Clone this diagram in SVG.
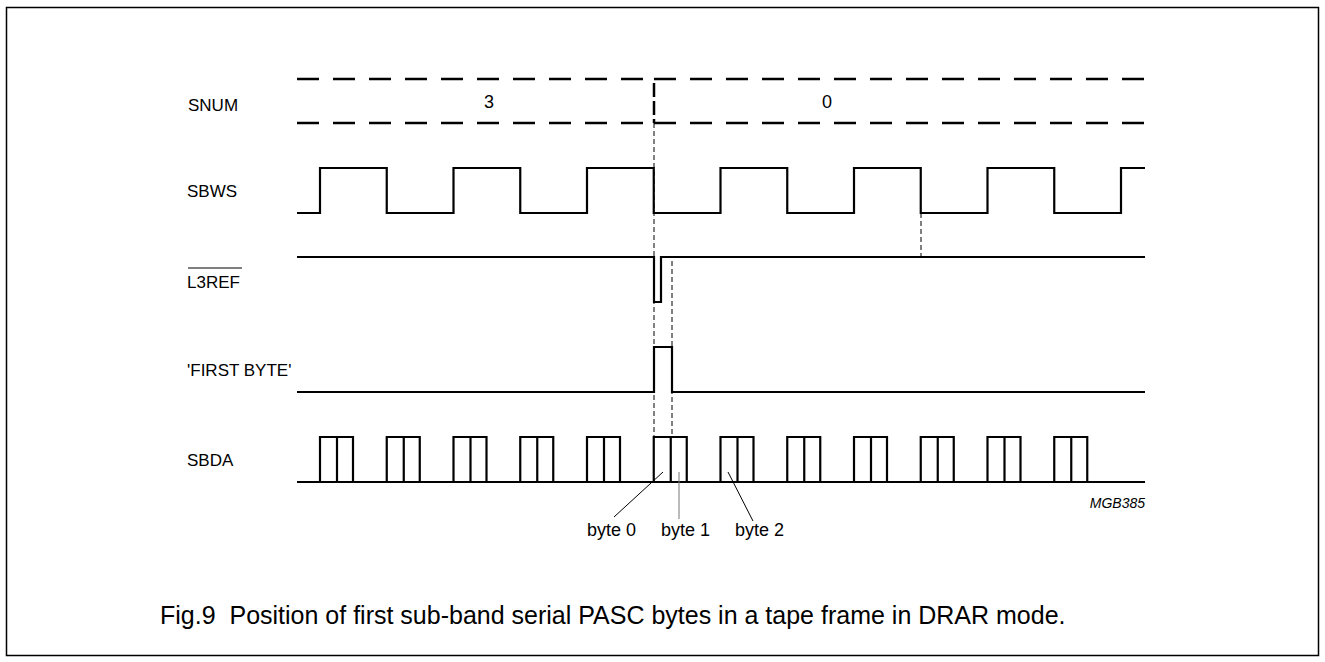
<svg xmlns="http://www.w3.org/2000/svg" width="1325" height="662" viewBox="0 0 1325 662">
<style>
.lbl{font-family:"Liberation Sans",Arial,sans-serif;font-size:18px;fill:#000}
.side{font-family:"Liberation Sans",Arial,sans-serif;font-size:17px;fill:#000}
.cap{font-family:"Liberation Sans",Arial,sans-serif;font-size:25px;fill:#000;white-space:pre}
.wave{fill:none;stroke:#000;stroke-width:2.2;stroke-linejoin:miter}
.dash{fill:none;stroke:#000;stroke-width:2.5;stroke-dasharray:22 14}
.guide{fill:none;stroke:#000;stroke-width:1;stroke-dasharray:5 3}
.lead{fill:none;stroke:#000;stroke-width:1}
</style>
<rect x="6.5" y="7.5" width="1312" height="648" fill="#fff" stroke="#000" stroke-width="1.5"/>
<g id="snum">
<text class="side" x="188" y="111">SNUM</text>
<path class="dash" d="M297,79 H654 M297,123 H654"/>
<path class="dash" d="M654,79 H1145 M654,123 H1145"/>
<path fill="none" stroke="#000" stroke-width="2.5" stroke-dasharray="14 4" d="M654,83 V123"/>
<text class="lbl" x="489" y="108" text-anchor="middle">3</text>
<text class="lbl" x="827" y="108" text-anchor="middle">0</text>
</g>
<g id="sbws">
<text class="side" x="187" y="197">SBWS</text>
<path class="wave" d="M297,213 H320 V168 H386.75 V213 H453.5 V168 H520.25 V213 H587 V168 H653.75 V213 H720.5 V168 H787.25 V213 H854 V168 H920.75 V213 H987.5 V168 H1054.25 V213 H1121 V168 H1145"/>
</g>
<g id="l3ref">
<text class="side" x="187" y="288">L3REF</text>
<line x1="188" y1="268" x2="242" y2="268" stroke="#000" stroke-width="1"/>
<path class="wave" d="M297,257 H654 V302 H661 V257 H1145"/>
</g>
<g id="firstbyte">
<text class="side" x="187" y="376">'FIRST BYTE'</text>
<path class="wave" d="M297,392 H654 V347 H672 V392 H1145"/>
</g>
<g id="sbda">
<text class="side" x="187" y="466">SBDA</text>
<path class="wave" d="M297,482 H1145
M320,482 V437 H353 V482 M337,437 V482
M386.75,482 V437 H419.75 V482 M403.75,437 V482
M453.5,482 V437 H486.5 V482 M470.5,437 V482
M520.25,482 V437 H553.25 V482 M537.25,437 V482
M587,482 V437 H620 V482 M604,437 V482
M653.75,482 V437 H686.75 V482 M670.75,437 V482
M720.5,482 V437 H753.5 V482 M737.5,437 V482
M787.25,482 V437 H820.25 V482 M804.25,437 V482
M854,482 V437 H887 V482 M871,437 V482
M920.75,482 V437 H953.75 V482 M937.75,437 V482
M987.5,482 V437 H1020.5 V482 M1004.5,437 V482
M1054.25,482 V437 H1087.25 V482 M1071.25,437 V482"/>
</g>
<g id="connectors">
<path class="guide" d="M654,123 V437"/>
<path class="guide" d="M672,261 V437"/>
<path class="guide" d="M921,213 V257"/>
<path class="lead" d="M614,517 L663,472"/>
<path class="lead" d="M679,472 V519" style="stroke:#777"/>
<path class="lead" d="M728,472 L753,521"/>
</g>
<g id="bytelabels">
<text class="lbl" x="587" y="536">byte 0</text>
<text class="lbl" x="661" y="536">byte 1</text>
<text class="lbl" x="735" y="536">byte 2</text>
<text class="lbl" x="1145" y="508" text-anchor="end" style="font-size:14px;font-style:italic">MGB385</text>
</g>
<text class="cap" x="160" y="624" xml:space="preserve">Fig.9  Position of first sub-band serial PASC bytes in a tape frame in DRAR mode.</text>
</svg>
